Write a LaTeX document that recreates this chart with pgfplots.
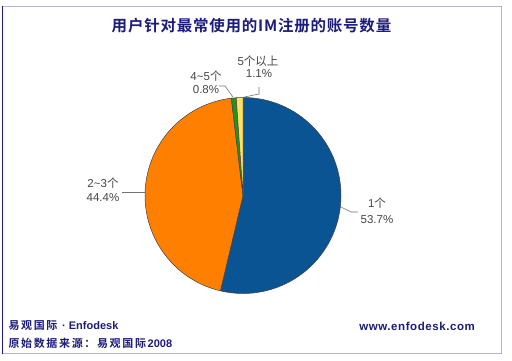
\documentclass[border=0pt]{standalone}
\usepackage{pgfplots}
\pgfplotsset{compat=1.18}
\usepackage{pgfplotstable}
\usepackage{fontspec}
\setmainfont{Liberation Sans}
\newfontfamily\cjk{Noto Sans CJK SC}
\newfontfamily\cjkb{Noto Sans CJK SC Bold}
\newfontfamily\cjkbt{Noto Sans CJK SC Bold}[LetterSpace=5]
\newfontfamily\cjkbf{Noto Sans CJK SC Bold}[LetterSpace=15]
\definecolor{navy}{RGB}{28,28,122}
\definecolor{leftnavy}{RGB}{30,30,140}
\definecolor{framegray}{RGB}{180,180,204}
\definecolor{pieblue}{RGB}{10,84,148}
\definecolor{pieorange}{RGB}{255,128,0}
\definecolor{piegreen}{RGB}{30,150,30}
\definecolor{pieyellow}{RGB}{255,224,100}
\definecolor{lbl}{RGB}{70,70,70}
\pgfplotstableread{
idx value color
0 53.7 pieblue
1 44.4 pieorange
2 0.8 piegreen
3 1.1 pieyellow
}\piedata
\begin{document}
\begin{tikzpicture}
\begin{axis}[width=512pt,height=360pt,scale only axis,xmin=0,xmax=512,ymin=0,ymax=360,
  y dir=reverse,hide axis,clip=false]
\addplot[draw=none] coordinates {(0,0)(512,360)};
\pgfplotsextra{
  \fill[white] (axis cs:0,0) rectangle (axis cs:512,360);
  \def\angA{90}
  \pgfplotsforeachungrouped \i in {0,...,3}{
    \pgfplotstablegetelem{\i}{value}\of\piedata
    \pgfmathsetmacro\angB{\angA-3.6*\pgfplotsretval}
    \pgfplotstablegetelem{\i}{color}\of\piedata
    \let\col\pgfplotsretval
    \fill[fill=\col, draw=black!75, line width=0.5pt] (axis cs:243,195.5) -- ++(\angA:98pt) arc[start angle=\angA, end angle=\angB, radius=98pt] -- cycle;
    \global\let\angA\angB
  }
  % leader lines
  \draw[black!55, line width=0.6pt] (axis cs:122,192) -- (axis cs:145,192);
  \draw[black!55, line width=0.6pt] (axis cs:341,207) -- (axis cs:351,212) -- (axis cs:358,212);
  \draw[black!55, line width=0.6pt] (axis cs:219,86) -- (axis cs:225,86) -- (axis cs:233,97);
  \draw[black!55, line width=0.6pt] (axis cs:259,87) -- (axis cs:259,94) -- (axis cs:242,97.5);
  % frame
  \draw[framegray, line width=1.2pt] (axis cs:2,6.5) -- (axis cs:501.5,6.5) -- (axis cs:501.5,353.5) -- (axis cs:2,353.5);
  \draw[leftnavy, line width=1.5pt] (axis cs:2.5,6) -- (axis cs:2.5,354);
}
% title
\node[navy, font=\cjkbt\fontsize{15.5}{18}\selectfont] at (axis cs:251.5,26) {用户针对最常使用的IM注册的账号数量};
% labels
\node[lbl, font=\fontsize{11.5}{13}\selectfont] at (axis cs:258,61) {5{\cjk 个以上}};
\node[lbl, font=\fontsize{11.5}{13}\selectfont] at (axis cs:259,74) {1.1\%};
\node[lbl, font=\fontsize{11.5}{13}\selectfont] at (axis cs:206,76) {4\textasciitilde 5{\cjk 个}};
\node[lbl, font=\fontsize{11.5}{13}\selectfont] at (axis cs:206,90) {0.8\%};
\node[lbl, font=\fontsize{11.5}{13}\selectfont] at (axis cs:103,183) {2\textasciitilde 3{\cjk 个}};
\node[lbl, font=\fontsize{11.5}{13}\selectfont] at (axis cs:103,198) {44.4\%};
\node[lbl, font=\fontsize{11.5}{13}\selectfont] at (axis cs:377,203) {1{\cjk 个}};
\node[lbl, font=\fontsize{11.5}{13}\selectfont] at (axis cs:377,220) {53.7\%};
% footer
\node[navy, anchor=west, font=\fontsize{11}{13}\selectfont] at (axis cs:5,326) {{\cjkbf 易观国际}\ \textbf{· Enfodesk}};
\node[navy, anchor=west, font=\fontsize{11}{13}\selectfont] at (axis cs:5,343) {{\cjkbf 原始数据来源：易观国际}\textbf{2008}};
\node[navy, anchor=east, font=\fontsize{11.5}{13}\selectfont] at (axis cs:479,326) {\addfontfeature{LetterSpace=5}\textbf{www.enfodesk.com}};
\end{axis}
\end{tikzpicture}
\end{document}
